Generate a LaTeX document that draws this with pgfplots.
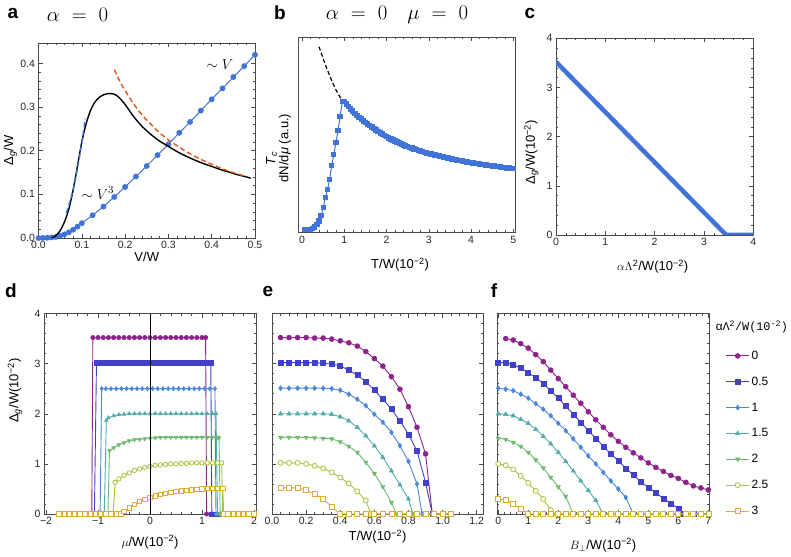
\documentclass[border=0pt]{standalone}
\usepackage{fontspec}
\setmainfont{Liberation Sans}
\setmonofont{Liberation Mono}
\usepackage{pgfplots}
\pgfplotsset{compat=1.18}
\definecolor{mblue}{RGB}{66,115,214}
\definecolor{mred}{RGB}{217,84,26}
\definecolor{c0}{RGB}{140,35,140}
\definecolor{c1}{RGB}{64,64,200}
\definecolor{c2}{RGB}{74,136,214}
\definecolor{c3}{RGB}{83,170,170}
\definecolor{c4}{RGB}{112,186,112}
\definecolor{c5}{RGB}{168,194,60}
\definecolor{c6}{RGB}{226,168,58}
\definecolor{frame}{RGB}{75,75,75}
\pgfplotsset{
  myaxis/.style={anchor=south west, scale only axis, clip mode=individual,
    axis line style={frame, line width=0.7pt}, tick style={frame, line width=0.5pt},
    tick align=inside, major tick length=4pt, minor tick length=2.2pt,
    tick label style={font=\fontsize{10.5}{12}\selectfont, text=black!85},
    label style={font=\fontsize{13}{15}\selectfont},
    /pgf/number format/assume math mode=true},
  s0/.style={c0, line width=0.9pt, mark=*, mark options={solid, fill=c0, line width=0.5pt}},
  s1/.style={c1, line width=0.9pt, mark=square*, mark options={solid, fill=c1, line width=0.5pt}},
  s2/.style={c2, line width=0.9pt, mark=diamond*, mark options={solid, fill=c2, line width=0.5pt}},
  s3/.style={c3, line width=0.9pt, mark=triangle*, mark options={solid, fill=c3, line width=0.5pt}},
  s4/.style={c4, line width=0.9pt, mark=triangle*, mark options={solid, fill=c4, rotate=180, line width=0.5pt}},
  s5/.style={c5, line width=0.9pt, mark=*, mark options={solid, fill=white, draw=c5, line width=0.8pt}},
  s6/.style={c6, line width=0.9pt, mark=square*, mark options={solid, fill=white, draw=c6, line width=0.8pt}},
}
\begin{document}
\begin{tikzpicture}
\useasboundingbox (0pt,0pt) rectangle (791pt,556pt);

% ---------------- a ----------------
\begin{axis}[myaxis, at={(38.5pt,318pt)}, width=216.5pt, height=195pt,
  xmin=0, xmax=0.5, ymin=0, ymax=0.447,
  xtick={0,0.1,0.2,0.3,0.4,0.5}, xticklabels={0.0,0.1,0.2,0.3,0.4,0.5},
  ytick={0,0.1,0.2,0.3,0.4}, yticklabels={0.0,0.1,0.2,0.3,0.4},
  minor x tick num=4, minor y tick num=4,
  xlabel={V/W}, ylabel={Δ\textsubscript{\textit{g}}/W},
  xlabel style={at={(axis description cs:0.5,-0.097)}, anchor=center},
  ylabel style={at={(axis description cs:-0.13,0.45)}, anchor=center}]
\addplot[mblue, line width=1pt, mark=*, mark size=2.4pt, mark options={fill=mblue}] coordinates {
(0,0)(0.01,0.0002)(0.02,0.0005)(0.03,0.0012)(0.04,0.0025)(0.05,0.005)(0.06,0.0085)(0.07,0.013)(0.08,0.019)(0.09,0.026)(0.1,0.034)
(0.125,0.052)(0.15,0.072)(0.175,0.094)(0.2,0.117)(0.225,0.141)(0.25,0.165)(0.275,0.19)(0.3,0.215)(0.325,0.241)(0.35,0.266)(0.375,0.292)(0.4,0.318)(0.425,0.343)(0.45,0.369)(0.475,0.394)(0.5,0.42)};
\addplot[black, line width=1.4pt, smooth] coordinates {
(0.03,0)(0.035,0.002)(0.04,0.005)(0.05,0.017)(0.06,0.037)(0.07,0.066)(0.08,0.11)(0.09,0.165)(0.1,0.22)(0.11,0.262)(0.12,0.292)(0.13,0.311)(0.14,0.322)(0.15,0.328)(0.16,0.331)(0.17,0.331)(0.18,0.327)(0.19,0.318)(0.2,0.306)(0.21,0.292)(0.22,0.278)(0.23,0.266)(0.24,0.255)(0.26,0.237)(0.28,0.222)(0.3,0.21)(0.32,0.198)(0.34,0.188)(0.36,0.179)(0.38,0.171)(0.4,0.164)(0.42,0.157)(0.44,0.151)(0.46,0.145)(0.48,0.14)(0.49,0.137)};
\addplot[mred, line width=1.4pt, dash pattern=on 5pt off 3pt, smooth] coordinates {
(0.175,0.386)(0.19,0.355)(0.2,0.338)(0.22,0.307)(0.24,0.281)(0.26,0.26)(0.28,0.241)(0.3,0.225)(0.33,0.205)(0.36,0.1875)(0.4,0.169)(0.44,0.153)(0.48,0.141)};
\addplot[mblue, line width=1.4pt, dash pattern=on 5pt off 3pt, smooth] coordinates {
(0.064,0.057)(0.07,0.075)(0.08,0.111)(0.09,0.159)(0.1,0.218)(0.108,0.274)};
\node[font=\fontsize{15}{15}\selectfont] at (axis cs:0.419,0.397) {$\sim V$};
\node[font=\fontsize{15}{15}\selectfont] at (axis cs:0.137,0.103) {$\sim V^3$};
\end{axis}

% ---------------- b ----------------
\begin{axis}[myaxis, at={(298.3pt,323.3pt)}, width=216.7pt, height=195.4pt,
  xmin=-0.09, xmax=5.04, ymin=0, ymax=195.4,
  xtick={0,1,2,3,4,5}, xticklabels={0,1,2,3,4,5}, minor x tick num=4,
  ytick=\empty,
  xlabel={T/W(10\textsuperscript{−2})}, ylabel={dN/d\textit{μ} (a.u.)},
  xlabel style={at={(axis description cs:0.47,-0.165)}, anchor=center},
  ylabel style={at={(axis description cs:-0.061,0.433)}, anchor=center}]
\addplot[mblue, line width=1pt, mark=square*, mark size=2.2pt, mark options={fill=mblue}] coordinates {
(0.05,3)(0.1,3)(0.15,3)(0.2,3.3)(0.25,4)(0.3,5.5)(0.35,8)(0.4,11.5)(0.45,17)(0.5,25)(0.55,35)(0.6,43)(0.65,53)(0.7,67)(0.75,78)(0.8,90)(0.85,102)(0.9,116)(0.95,131)
(1.0,131)(1.05,128.5)(1.1,126)(1.15,123.7)(1.2,121.5)(1.25,119.2)(1.3,117)(1.35,115.2)(1.4,113.5)(1.45,111.7)(1.5,110)(1.55,108.5)(1.6,107)(1.65,105.5)(1.7,104)(1.75,102.5)(1.8,101)(1.85,99.7)(1.9,98.5)(1.95,97.2)
(2.0,96)(2.05,94.7)(2.1,93.5)(2.15,92.5)(2.2,91.5)(2.25,90.5)(2.3,89.5)(2.35,88.5)(2.4,87.5)(2.45,86.7)(2.5,86)(2.55,85.2)(2.6,84.5)(2.65,83.7)(2.7,83)(2.75,82.2)(2.8,81.5)(2.85,80.9)(2.9,80.3)(2.95,79.6)
(3.0,79)(3.05,78.5)(3.1,78)(3.15,77.5)(3.2,77)(3.25,76.5)(3.3,76)(3.35,75.5)(3.4,75)(3.45,74.5)(3.5,74)(3.55,73.6)(3.6,73.2)(3.65,72.8)(3.7,72.4)(3.75,72)(3.8,71.6)(3.85,71.2)(3.9,70.8)(3.95,70.4)
(4.0,70)(4.05,69.6)(4.1,69.3)(4.15,68.9)(4.2,68.6)(4.25,68.3)(4.3,68)(4.35,67.7)(4.4,67.4)(4.45,67.1)(4.5,66.8)(4.55,66.5)(4.6,66.2)(4.65,65.9)(4.7,65.6)(4.75,65.3)(4.8,65)(4.85,64.7)(4.9,64.5)(4.95,64.2)(5.0,64)};
\addplot[black, line width=1.2pt, dash pattern=on 4pt off 2.5pt, smooth] coordinates {
(0.4,186)(0.45,180)(0.5,174)(0.55,168)(0.6,162.5)(0.65,157.5)(0.7,152)(0.75,147.5)(0.8,143)(0.85,139)(0.9,135.5)(0.95,133)};
\node[rotate=90, font=\fontsize{13}{15}\selectfont] at (axis description cs:-0.123,0.38) {\textit{T}\textsubscript{\textit{c}}};
\end{axis}

% ---------------- c ----------------
\begin{axis}[myaxis, at={(556pt,321pt)}, width=197.3pt, height=196.7pt,
  xmin=0, xmax=4, ymin=0, ymax=4,
  xtick={0,1,2,3,4}, xticklabels={0,1,2,3,4}, ytick={0,1,2,3,4}, yticklabels={0,1,2,3,4},
  minor x tick num=4, minor y tick num=4,
  xlabel={$\alpha\Lambda$\textsuperscript{2}/W(10\textsuperscript{−2})}, ylabel={Δ\textsubscript{\textit{g}}/W(10\textsuperscript{−2})},
  xlabel style={at={(axis description cs:0.49,-0.16)}, anchor=center},
  ylabel style={at={(axis description cs:-0.125,0.42)}, anchor=center}]
\addplot[mblue, line width=4.5pt] coordinates {(0,3.52)(3.45,0)(4,0)};
\end{axis}

% ---------------- d ----------------
\begin{axis}[myaxis, at={(44pt,42pt)}, width=212pt, height=200.5pt,
  xmin=-2.04, xmax=2.04, ymin=0, ymax=4,
  xtick={-2,-1,0,1,2}, xticklabels={−2,−1,0,1,2}, ytick={0,1,2,3,4}, yticklabels={0,1,2,3,4},
  minor x tick num=4, minor y tick num=4, mark size=2.2pt,
  xlabel={$\mu$/W(10\textsuperscript{−2})}, ylabel={Δ\textsubscript{\textit{g}}/W(10\textsuperscript{−2})},
  xlabel style={at={(axis description cs:0.5,-0.14)}, anchor=center},
  ylabel style={at={(axis description cs:-0.137,0.615)}, anchor=center}]
\addplot[s0] coordinates {(-1.75,0)(-1.65,0)(-1.55,0)(-1.45,0)(-1.35,0)(-1.25,0)(-1.15,0)(-1.12,0)(-1.1,3.52)(-1.0,3.52)(-0.9,3.52)(-0.8,3.52)(-0.7,3.52)(-0.6,3.52)(-0.5,3.52)(-0.4,3.52)(-0.3,3.52)(-0.2,3.52)(-0.1,3.52)(0,3.52)(0.1,3.52)(0.2,3.52)(0.3,3.52)(0.4,3.52)(0.5,3.52)(0.6,3.52)(0.7,3.52)(0.8,3.52)(0.9,3.52)(1.0,3.52)(1.07,3.52)(1.09,0)(1.2,0)(1.3,0)(1.4,0)(1.5,0)(1.6,0)(1.7,0)(1.8,0)(1.9,0)(2.0,0)};
\addplot[s1] coordinates {(-1.75,0)(-1.65,0)(-1.55,0)(-1.45,0)(-1.35,0)(-1.25,0)(-1.15,0)(-1.07,0)(-1.03,3.02)(-0.95,3.02)(-0.85,3.02)(-0.75,3.02)(-0.65,3.02)(-0.55,3.02)(-0.45,3.02)(-0.35,3.02)(-0.25,3.02)(-0.15,3.02)(-0.05,3.02)(0.05,3.02)(0.15,3.02)(0.25,3.02)(0.35,3.02)(0.45,3.02)(0.55,3.02)(0.65,3.02)(0.75,3.02)(0.85,3.02)(0.95,3.02)(1.05,3.02)(1.17,3.02)(1.19,0)(1.3,0)(1.4,0)(1.5,0)(1.6,0)(1.7,0)(1.8,0)(1.9,0)(2.0,0)};
\addplot[s2] coordinates {(-1.75,0)(-1.65,0)(-1.55,0)(-1.45,0)(-1.35,0)(-1.25,0)(-1.15,0)(-1.05,0)(-0.96,0)(-0.93,2.5)(-0.85,2.5)(-0.75,2.5)(-0.65,2.5)(-0.55,2.5)(-0.45,2.5)(-0.35,2.5)(-0.25,2.5)(-0.15,2.5)(-0.05,2.5)(0.05,2.5)(0.15,2.5)(0.25,2.5)(0.35,2.5)(0.45,2.5)(0.55,2.5)(0.65,2.5)(0.75,2.5)(0.85,2.5)(0.95,2.5)(1.05,2.5)(1.15,2.5)(1.25,2.5)(1.27,0)(1.35,0)(1.45,0)(1.55,0)(1.65,0)(1.75,0)(1.85,0)(1.95,0)};
\addplot[s3] coordinates {(-1.75,0)(-1.65,0)(-1.55,0)(-1.45,0)(-1.35,0)(-1.25,0)(-1.15,0)(-1.05,0)(-0.95,0)(-0.88,0)(-0.84,1.87)(-0.8,1.92)(-0.7,1.96)(-0.6,1.98)(-0.5,1.99)(-0.4,2.0)(-0.3,2.0)(-0.2,2.0)(-0.1,2.0)(0,2.0)(0.1,2.0)(0.2,2.0)(0.3,2.0)(0.4,2.0)(0.5,2.0)(0.6,2.0)(0.7,2.0)(0.8,2.0)(0.9,2.0)(1.0,2.0)(1.1,2.0)(1.2,2.0)(1.27,2.0)(1.3,0)(1.4,0)(1.5,0)(1.6,0)(1.7,0)(1.8,0)(1.9,0)(2.0,0)};
\addplot[s4] coordinates {(-1.75,0)(-1.65,0)(-1.55,0)(-1.45,0)(-1.35,0)(-1.25,0)(-1.15,0)(-1.05,0)(-0.95,0)(-0.85,0)(-0.81,0)(-0.78,1.26)(-0.7,1.32)(-0.6,1.38)(-0.5,1.42)(-0.4,1.46)(-0.3,1.48)(-0.2,1.49)(-0.1,1.5)(0,1.51)(0.1,1.52)(0.2,1.53)(0.3,1.53)(0.4,1.53)(0.5,1.53)(0.6,1.53)(0.7,1.53)(0.8,1.53)(0.9,1.53)(1.0,1.53)(1.1,1.53)(1.2,1.53)(1.3,1.53)(1.33,1.52)(1.35,0)(1.45,0)(1.55,0)(1.65,0)(1.75,0)(1.85,0)(1.95,0)};
\addplot[s5] coordinates {(-1.75,0)(-1.65,0)(-1.55,0)(-1.45,0)(-1.35,0)(-1.25,0)(-1.15,0)(-1.05,0)(-0.95,0)(-0.85,0)(-0.75,0)(-0.71,0)(-0.67,0.63)(-0.6,0.7)(-0.5,0.77)(-0.4,0.82)(-0.3,0.87)(-0.2,0.9)(-0.1,0.93)(0,0.95)(0.1,0.97)(0.2,0.98)(0.3,0.99)(0.4,1.0)(0.5,1.0)(0.6,1.01)(0.7,1.01)(0.8,1.02)(0.9,1.02)(1.0,1.02)(1.1,1.02)(1.2,1.02)(1.3,1.02)(1.38,1.02)(1.4,0)(1.5,0)(1.6,0)(1.7,0)(1.8,0)(1.9,0)(2.0,0)};
\addplot[s6] coordinates {(-1.75,0)(-1.65,0)(-1.55,0)(-1.45,0)(-1.35,0)(-1.25,0)(-1.15,0)(-1.05,0)(-0.95,0)(-0.85,0)(-0.75,0)(-0.65,0)(-0.56,0)(-0.5,0.05)(-0.4,0.12)(-0.3,0.19)(-0.2,0.25)(-0.1,0.29)(0,0.33)(0.1,0.36)(0.2,0.39)(0.3,0.41)(0.4,0.43)(0.5,0.45)(0.6,0.46)(0.7,0.47)(0.8,0.48)(0.9,0.49)(1.0,0.5)(1.1,0.51)(1.2,0.51)(1.3,0.51)(1.4,0.51)(1.42,0)(1.5,0)(1.6,0)(1.7,0)(1.8,0)(1.9,0)(2.0,0)};
\addplot[black, line width=0.8pt] coordinates {(0,0)(0,4)};
\end{axis}

% ---------------- e ----------------
\begin{axis}[myaxis, at={(272pt,42pt)}, width=211pt, height=200.5pt,
  xmin=0, xmax=1.237, ymin=0, ymax=4,
  xtick={0,0.2,0.4,0.6,0.8,1.0,1.2}, xticklabels={0.0,0.2,0.4,0.6,0.8,1.0,1.2},
  ytick={0,1,2,3,4}, yticklabels={},
  minor x tick num=3, minor y tick num=4, mark size=2.5pt,
  xlabel={T/W(10\textsuperscript{−2})},
  xlabel style={at={(axis description cs:0.5,-0.113)}, anchor=center}]
\addplot[s0] coordinates {(0.05,3.52)(0.1,3.52)(0.15,3.52)(0.2,3.52)(0.25,3.51)(0.3,3.51)(0.35,3.49)(0.4,3.455)(0.45,3.415)(0.5,3.35)(0.55,3.24)(0.6,3.10)(0.65,2.95)(0.7,2.74)(0.75,2.49)(0.8,2.14)(0.85,1.73)(0.9,1.20)(0.94,0)(1.0,0)(1.05,0)};
\addplot[s1] coordinates {(0.05,3.02)(0.1,3.02)(0.15,3.02)(0.2,3.02)(0.25,3.02)(0.3,3.01)(0.35,2.99)(0.4,2.96)(0.45,2.87)(0.5,2.77)(0.55,2.64)(0.6,2.47)(0.65,2.29)(0.7,2.09)(0.75,1.86)(0.8,1.59)(0.85,1.26)(0.9,0.63)(0.94,0)(1.0,0)(1.05,0)};
\addplot[s2] coordinates {(0.05,2.51)(0.1,2.51)(0.15,2.51)(0.2,2.51)(0.25,2.51)(0.3,2.51)(0.35,2.5)(0.4,2.47)(0.45,2.39)(0.5,2.29)(0.55,2.16)(0.6,1.99)(0.65,1.83)(0.7,1.63)(0.75,1.36)(0.8,1.05)(0.85,0.6)(0.88,0)(0.95,0)(1.0,0)(1.05,0)};
\addplot[s3] coordinates {(0.05,2.0)(0.1,2.0)(0.15,2.0)(0.2,2.0)(0.25,2.0)(0.3,2.0)(0.35,1.99)(0.4,1.94)(0.45,1.86)(0.5,1.73)(0.55,1.56)(0.6,1.36)(0.65,1.13)(0.7,0.86)(0.75,0.58)(0.8,0.3)(0.825,0)(0.9,0)(0.95,0)(1.0,0)(1.05,0)};
\addplot[s4] coordinates {(0.05,1.53)(0.1,1.53)(0.15,1.53)(0.2,1.53)(0.25,1.52)(0.3,1.51)(0.35,1.5)(0.4,1.44)(0.45,1.35)(0.5,1.23)(0.55,1.03)(0.6,0.81)(0.65,0.54)(0.7,0.23)(0.73,0)(0.8,0)(0.85,0)(0.9,0)(0.95,0)(1.0,0)(1.05,0)};
\addplot[s5] coordinates {(0.05,1.02)(0.1,1.02)(0.15,1.02)(0.2,1.0)(0.25,0.96)(0.3,0.91)(0.35,0.83)(0.4,0.73)(0.45,0.61)(0.5,0.45)(0.55,0.27)(0.58,0)(0.65,0)(0.7,0)(0.75,0)(0.8,0)(0.85,0)(0.9,0)(0.95,0)(1.0,0)(1.05,0)};
\addplot[s6] coordinates {(0.05,0.52)(0.1,0.52)(0.15,0.52)(0.2,0.48)(0.25,0.4)(0.3,0.3)(0.35,0.15)(0.4,0)(0.45,0)(0.5,0)(0.55,0)(0.6,0)(0.65,0)(0.7,0)(0.75,0)(0.8,0)(0.85,0)(0.9,0)(0.95,0)(1.0,0)(1.05,0)};
\end{axis}

% ---------------- f ----------------
\begin{axis}[myaxis, at={(497pt,42pt)}, width=212pt, height=200.5pt,
  xmin=-0.04, xmax=7.02, ymin=0, ymax=4,
  xtick={0,1,2,3,4,5,6,7}, xticklabels={0,1,2,3,4,5,6,7},
  ytick={0,1,2,3,4}, yticklabels={},
  minor x tick num=4, minor y tick num=4, mark size=2.5pt,
  xlabel={$B_{\perp}$/W(10\textsuperscript{−2})},
  xlabel style={at={(axis description cs:0.5,-0.155)}, anchor=center},
  legend image code/.code={\draw[mark repeat=2,mark phase=2,#1] plot coordinates {(0pt,0pt) (11.5pt,0pt) (23pt,0pt)};},
  legend style={at={(axis description cs:1.064,0.834)}, anchor=north west, draw=none, fill=none,
    font=\fontsize{12}{12}\selectfont, row sep=12pt, nodes={inner sep=2pt},
    /tikz/every even column/.append style={column sep=7.5pt}},
  legend cell align=left]
\addplot[s0] coordinates {(0.25,3.5)(0.5,3.47)(0.75,3.4)(1.0,3.31)(1.25,3.18)(1.5,3.04)(1.75,2.87)(2.0,2.7)(2.25,2.54)(2.5,2.37)(2.75,2.21)(3.0,2.04)(3.25,1.88)(3.5,1.73)(3.75,1.58)(4.0,1.45)(4.25,1.33)(4.5,1.22)(4.75,1.12)(5.0,1.02)(5.25,0.93)(5.5,0.85)(5.75,0.77)(6.0,0.71)(6.25,0.63)(6.5,0.56)(6.75,0.52)(7.0,0.48)};
\addplot[s1] coordinates {(0,3.02)(0.25,3.02)(0.5,2.98)(0.75,2.91)(1.0,2.82)(1.25,2.72)(1.5,2.6)(1.75,2.46)(2.0,2.31)(2.25,2.15)(2.5,1.99)(2.75,1.83)(3.0,1.66)(3.25,1.51)(3.5,1.35)(3.75,1.2)(4.0,1.06)(4.25,0.91)(4.5,0.78)(4.75,0.64)(5.0,0.53)(5.25,0.42)(5.5,0.31)(5.75,0.21)(6.0,0.11)(6.1,0)(6.25,0)(6.5,0)(6.75,0)(7.0,0)};
\addplot[s2] coordinates {(0,2.51)(0.25,2.49)(0.5,2.46)(0.75,2.39)(1.0,2.31)(1.25,2.2)(1.5,2.09)(1.75,1.96)(2.0,1.81)(2.25,1.66)(2.5,1.5)(2.75,1.33)(3.0,1.16)(3.25,1.0)(3.5,0.83)(3.75,0.66)(4.0,0.5)(4.25,0.33)(4.5,0)(4.75,0)(5.0,0)(5.25,0)(5.5,0)(5.75,0)(6.0,0)(6.25,0)(6.5,0)(6.75,0)(7.0,0)};
\addplot[s3] coordinates {(0,2.0)(0.25,1.99)(0.5,1.96)(0.75,1.89)(1.0,1.81)(1.25,1.69)(1.5,1.55)(1.75,1.4)(2.0,1.23)(2.25,1.05)(2.5,0.86)(2.75,0.66)(3.0,0.47)(3.25,0.27)(3.5,0)(3.75,0)(4.0,0)(4.25,0)(4.5,0)(4.75,0)(5.0,0)(5.25,0)(5.5,0)(5.75,0)(6.0,0)(6.25,0)(6.5,0)(6.75,0)(7.0,0)};
\addplot[s4] coordinates {(0,1.51)(0.25,1.49)(0.5,1.43)(0.75,1.35)(1.0,1.23)(1.25,1.08)(1.5,0.92)(1.75,0.73)(2.0,0.54)(2.25,0.35)(2.5,0)(2.75,0)(3.0,0)(3.25,0)(3.5,0)(3.75,0)(4.0,0)(4.25,0)(4.5,0)(4.75,0)(5.0,0)(5.25,0)(5.5,0)(5.75,0)(6.0,0)(6.25,0)(6.5,0)(6.75,0)(7.0,0)};
\addplot[s5] coordinates {(0,1.0)(0.25,0.97)(0.5,0.89)(0.75,0.76)(1.0,0.62)(1.25,0.46)(1.5,0.3)(1.75,0.08)(1.8,0)(2.0,0)(2.25,0)(2.5,0)(2.75,0)(3.0,0)(3.25,0)(3.5,0)(3.75,0)(4.0,0)(4.25,0)(4.5,0)(4.75,0)(5.0,0)(5.25,0)(5.5,0)(5.75,0)(6.0,0)(6.25,0)(6.5,0)(6.75,0)(7.0,0)};
\addplot[s6] coordinates {(0,0.3)(0.25,0.28)(0.5,0.2)(0.75,0.1)(1.0,0)(1.25,0)(1.5,0)(1.75,0)(2.0,0)(2.25,0)(2.5,0)(2.75,0)(3.0,0)(3.25,0)(3.5,0)(3.75,0)(4.0,0)(4.25,0)(4.5,0)(4.75,0)(5.0,0)(5.25,0)(5.5,0)(5.75,0)(6.0,0)(6.25,0)(6.5,0)(6.75,0)(7.0,0)};
\legend{0,0.5,1,1.5,2,2.5,3}
\end{axis}

\node[anchor=west, font=\fontsize{11.8}{12}\selectfont\ttfamily] at (712pt,229pt) {αΛ\textsuperscript{2}/W(10\textsuperscript{-2})};

% panel letters and titles
\node[font=\fontsize{19}{19}\selectfont\bfseries] at (13pt,543pt) {a};
\node[font=\fontsize{20}{20}\selectfont] at (77.5pt,541pt) {$\alpha\hspace{12pt}{=}\hspace{12pt}0$};
\node[font=\fontsize{19}{19}\selectfont\bfseries] at (280pt,543pt) {b};
\node[font=\fontsize{20}{20}\selectfont] at (397pt,541pt) {$\alpha\hspace{12pt}{=}\hspace{12pt}0\hspace{20pt}\mu\hspace{12pt}{=}\hspace{12pt}0$};
\node[font=\fontsize{19}{19}\selectfont\bfseries] at (530pt,543pt) {c};
\node[font=\fontsize{19}{19}\selectfont\bfseries] at (11pt,265pt) {d};
\node[font=\fontsize{19}{19}\selectfont\bfseries] at (268pt,265pt) {e};
\node[font=\fontsize{19}{19}\selectfont\bfseries] at (494pt,265pt) {f};
\end{tikzpicture}
\end{document}
